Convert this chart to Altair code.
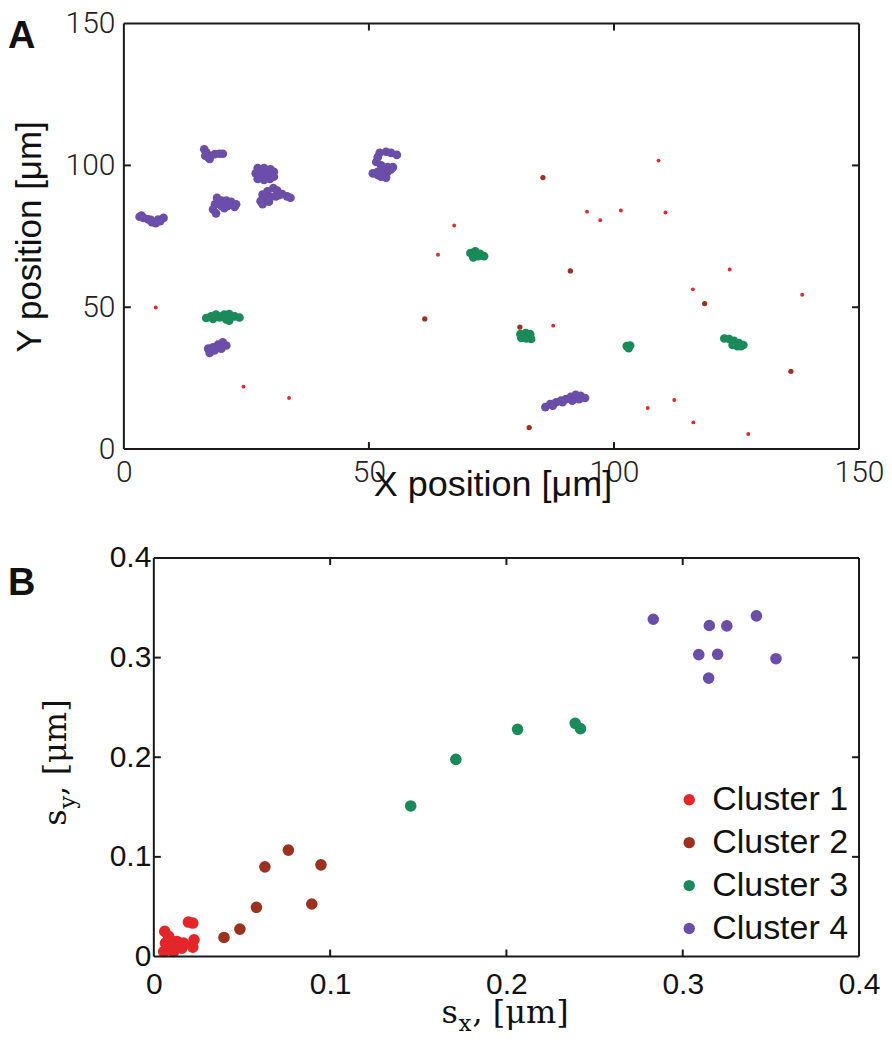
import altair as alt
import pandas as pd

# ---------------- data ----------------
cluster_names = ["Cluster 1", "Cluster 2", "Cluster 3", "Cluster 4"]
cluster_colors = ["#e3262a", "#9b3220", "#1b8a5a", "#6a4ea8"]

# Panel A: positions [um]
a1_x = [6.5, 24.4, 33.7, 64.1, 67.4, 94.5, 97.2, 101.4, 109.1, 110.5, 87.6, 116.1, 123.6, 138.4, 106.9, 112.3, 116.2, 127.4]
a1_y = [49.9, 22.0, 18.0, 68.5, 78.8, 83.7, 80.7, 84.1, 101.7, 83.4, 43.5, 56.3, 63.3, 54.4, 14.5, 17.3, 9.4, 5.3]

a2_x = [61.4, 85.5, 91.1, 80.8, 118.5, 136.1, 82.7]
a2_y = [45.9, 95.7, 62.8, 43.0, 51.3, 27.4, 7.6]

a3_x = [16.8, 17.8, 18.8, 19.5, 20.5, 21.5, 22.6, 23.6, 21.5, 20.9, 18.2, 19.9,
        70.7, 71.7, 72.7, 73.5, 71.3, 72.3,
        80.9, 82.0, 82.9, 81.1, 82.1, 83.1,
        102.6, 103.3, 103.0,
        122.5, 123.5, 124.5, 125.5, 126.4, 124.2, 125.2, 125.9]
a3_y = [46.2, 46.8, 47.4, 46.4, 47.4, 47.6, 46.8, 46.4, 45.3, 45.7, 45.9, 46.8,
        69.1, 69.7, 68.8, 68.0, 67.6, 68.0,
        40.5, 40.9, 40.5, 39.2, 39.0, 38.8,
        36.3, 36.5, 35.6,
        39.0, 38.8, 38.2, 37.4, 36.7, 36.7, 36.3, 36.3]

a4_x = [3.2, 4.0, 4.9, 5.7, 6.5, 7.4, 8.1, 5.5, 7.0, 3.6,
        16.4, 16.8, 17.2, 17.8, 18.6, 19.5, 20.2, 16.6, 17.5,
        19.0, 19.9, 20.9, 21.9, 22.9, 18.6, 19.9, 21.2, 22.6, 18.2, 18.8, 20.5,
        27.3, 28.6, 29.9, 30.6, 26.9, 28.3, 29.6, 30.6, 27.3, 28.6, 29.8,
        28.3, 29.3, 30.5, 31.3, 32.3, 33.3, 34.0, 27.9, 28.9, 29.9, 31.0, 31.6, 28.3, 29.6,
        52.2, 53.5, 54.5, 55.7, 51.8, 51.5, 52.5, 53.8, 54.9, 50.8, 51.8, 52.8, 53.8, 54.5, 52.5, 53.5, 51.8,
        17.2, 18.2, 19.2, 20.2, 20.9, 19.9, 18.5, 17.5, 18.8,
        86.0, 87.0, 88.2, 89.2, 90.2, 91.2, 92.2, 93.2, 94.1, 87.5, 89.5, 91.5, 92.9]
a4_y = [81.9, 81.5, 81.0, 80.0, 79.6, 80.3, 81.5, 80.8, 80.9, 82.3,
        105.7, 104.6, 102.9, 103.4, 104.0, 104.1, 104.1, 103.4, 102.3,
        88.6, 87.6, 87.6, 87.2, 86.3, 86.3, 85.7, 85.7, 85.4, 84.5, 83.1, 84.9,
        99.1, 99.1, 98.6, 97.7, 97.2, 97.2, 96.8, 96.0, 95.2, 94.9, 95.2,
        89.7, 90.9, 92.0, 91.1, 89.9, 89.1, 88.6, 87.4, 88.0, 88.8, 89.1, 89.5, 86.3, 87.2,
        104.4, 104.8, 104.4, 103.7, 102.9, 101.2, 100.0, 99.4, 99.4, 97.2, 97.7, 98.3, 97.7, 98.6, 96.0, 95.7, 96.6,
        35.4, 35.9, 36.8, 37.6, 36.5, 35.4, 34.8, 33.9, 35.4,
        14.8, 15.9, 16.5, 17.1, 17.6, 18.4, 19.1, 18.8, 18.0, 15.3, 16.5, 17.1, 17.6]

# Panel B: spreads s_x, s_y [um]
b1_sx = [0.0196, 0.0221, 0.0062, 0.0228, 0.0221, 0.0159, 0.0131, 0.0093, 0.0066, 0.0075, 0.0103, 0.0168, 0.0056, 0.0112, 0.0084]
b1_sy = [0.0346, 0.0336, 0.0252, 0.0168, 0.0094, 0.0084, 0.0151, 0.0168, 0.0134, 0.0067, 0.0101, 0.0134, 0.0050, 0.0050, 0.0202]
b2_sx = [0.0763, 0.0948, 0.0896, 0.0630, 0.0582, 0.0488, 0.0398]
b2_sy = [0.1068, 0.0920, 0.0527, 0.0900, 0.0494, 0.0275, 0.0191]
b3_sx = [0.2063, 0.2390, 0.2420, 0.1713, 0.1457]
b3_sy = [0.2280, 0.2340, 0.2287, 0.1978, 0.1511]
b4_sx = [0.2833, 0.3151, 0.3250, 0.3418, 0.3091, 0.3198, 0.3529, 0.3147]
b4_sy = [0.3385, 0.3322, 0.3318, 0.3419, 0.3030, 0.3033, 0.2989, 0.2794]

a_ticks = [0, 50, 100, 150]
a_inner_ticks = [50, 100]
b_ticks = [0, 0.1, 0.2, 0.3, 0.4]
b_inner_ticks = [0.1, 0.2, 0.3]

# ---------------- tables ----------------
def table(xs, ys, names):
    rows = []
    for xv, yv, nm in zip(xs, ys, names):
        for a, b in zip(xv, yv):
            rows.append({"x": a, "y": b, "cluster": nm})
    return pd.DataFrame(rows)

dfA = table([a1_x, a2_x, a3_x, a4_x], [a1_y, a2_y, a3_y, a4_y], cluster_names)
dfB = table([b1_sx, b2_sx, b3_sx, b4_sx], [b1_sy, b2_sy, b3_sy, b4_sy], cluster_names)

FRAME = "#1a1a1a"
TICK_LEN = 7
SANS = "Liberation Sans"
SERIF = "DejaVu Serif"


def frame_layers(xmin, xmax, ymin, ymax, inner_x, inner_y):
    box = pd.DataFrame({"x": [xmin, xmin, xmin, xmax], "x2": [xmax, xmax, xmin, xmax],
                        "y": [ymin, ymax, ymin, ymin], "y2": [ymin, ymax, ymax, ymax]})
    box_l = alt.Chart(box).mark_rule(color=FRAME, strokeWidth=2).encode(
        x="x:Q", x2="x2", y="y:Q", y2="y2")
    bt = pd.DataFrame({"x": inner_x, "y": [ymin] * len(inner_x)})
    tt = pd.DataFrame({"x": inner_x, "y": [ymax] * len(inner_x)})
    lt = pd.DataFrame({"y": inner_y, "x": [xmin] * len(inner_y)})
    rt = pd.DataFrame({"y": inner_y, "x": [xmax] * len(inner_y)})
    b_l = alt.Chart(bt).mark_rule(color=FRAME, strokeWidth=2, y2Offset=-TICK_LEN).encode(
        x="x:Q", y="y:Q", y2=alt.Y2("y"))
    t_l = alt.Chart(tt).mark_rule(color=FRAME, strokeWidth=2, y2Offset=TICK_LEN).encode(
        x="x:Q", y="y:Q", y2=alt.Y2("y"))
    l_l = alt.Chart(lt).mark_rule(color=FRAME, strokeWidth=2, x2Offset=TICK_LEN).encode(
        y="y:Q", x="x:Q", x2=alt.X2("x"))
    r_l = alt.Chart(rt).mark_rule(color=FRAME, strokeWidth=2, x2Offset=-TICK_LEN).encode(
        y="y:Q", x="x:Q", x2=alt.X2("x"))
    return [box_l, b_l, t_l, l_l, r_l]


def text_layer(txt, x, y, size, font=SERIF, angle=0, weight="normal"):
    return alt.Chart(pd.DataFrame({"t": [txt]})).mark_text(
        font=font, fontSize=size, angle=angle, fontWeight=weight, align="left",
        baseline="alphabetic", color="#111").encode(text="t:N", x=alt.value(x), y=alt.value(y))


color_scale = alt.Scale(domain=cluster_names, range=cluster_colors)

# ---------------- panel A ----------------
WA, HA = 736, 426
LEFT = 116
A_TICK_FONT = "Roboto"

xA = alt.X("x:Q", scale=alt.Scale(domain=[0, 150], nice=False, zero=False),
           axis=alt.Axis(values=a_ticks, title="X position [μm]", domain=False, ticks=False, grid=False,
                         labelFont=A_TICK_FONT, labelFontWeight=300, labelFontSize=30, labelColor="#222",
                         labelPadding=8, labelFlush=False, labelOverlap=False,
                         titleFont=SANS, titleFontSize=36, titleFontWeight="normal",
                         titleColor="#111", titleX=WA / 2 + 1, titleY=46, titleBaseline="alphabetic",
                         titleAlign="center"))
yA = alt.Y("y:Q", scale=alt.Scale(domain=[0, 150], nice=False, zero=False),
           axis=alt.Axis(values=a_ticks, title="Y position [μm]", domain=False, ticks=False, grid=False,
                         labelFont=A_TICK_FONT, labelFontWeight=300, labelFontSize=30, labelColor="#222",
                         labelPadding=9, labelFlush=False, labelOverlap=False,
                         titleFont=SANS, titleFontSize=35, titleFontWeight="normal",
                         titleColor="#111", titleX=-83, titleY=HA / 2, titleAngle=270,
                         titleBaseline="alphabetic", titleAlign="center"))
colA = alt.Color("cluster:N", scale=color_scale, legend=None)


def pts(names, size, with_axes=False):
    return alt.Chart(dfA).transform_filter(
        alt.FieldOneOfPredicate(field="cluster", oneOf=names)).mark_circle(
        opacity=1, strokeWidth=0, size=size).encode(
        x=xA if with_axes else "x:Q", y=yA if with_axes else "y:Q", color=colA)


blobs = pts(["Cluster 3", "Cluster 4"], 75, with_axes=True)
browns = pts(["Cluster 2"], 28)
reds = pts(["Cluster 1"], 15)

labelA = text_layer("A", -LEFT, 24, 38, font=SANS, weight="bold")

panelA = alt.layer(blobs, browns, reds, *frame_layers(0, 150, 0, 150, a_inner_ticks, a_inner_ticks),
                   labelA).properties(width=WA, height=HA)

# ---------------- panel B ----------------
WB, HB = 736, 399
SHIFT = 30  # px between panel A's and panel B's left plot edge
b_xmin = -SHIFT * 0.4 / (WB - SHIFT)

pointsB = alt.Chart(dfB).mark_circle(opacity=1, strokeWidth=0, size=135).encode(
    x=alt.X("x:Q", scale=alt.Scale(domain=[b_xmin, 0.4], nice=False, zero=False),
            axis=alt.Axis(values=b_ticks, format="~g", title=None, domain=False, ticks=False, grid=False,
                          labelFont=SANS, labelFontSize=30, labelColor="#111",
                          labelPadding=13, labelFlush=False, labelOverlap=False)),
    y=alt.Y("y:Q", scale=alt.Scale(domain=[0, 0.4], nice=False, zero=False),
            axis=alt.Axis(values=b_ticks, format="~g", title=None, domain=False, ticks=False, grid=False,
                          offset=-SHIFT,
                          labelFont=SANS, labelFontSize=30, labelColor="#111",
                          labelPadding=3, labelFlush=False, labelOverlap=False)),
    color=alt.Color("cluster:N", scale=color_scale,
                    legend=alt.Legend(title=None, orient="none", legendX=549, legendY=225,
                                      labelFont=SANS, labelFontSize=34, labelColor="#111",
                                      symbolType="circle", symbolSize=130, symbolStrokeWidth=0,
                                      rowPadding=9, padding=0, labelOffset=6)),
)

# axis titles of panel B: "s" with a subscript, then ", [μm]"
YT_X = SHIFT - 88
ytitle = [text_layer("s", YT_X, 268, 32, angle=270),
          text_layer("y", YT_X + 9, 251, 23, angle=270),
          text_layer(", [μm]", YT_X, 238, 32, angle=270)]
XT_X = 318
XT_Y = HB + 67
xtitle = [text_layer("s", XT_X, XT_Y, 32),
          text_layer("x", XT_X + 17, XT_Y + 8, 23),
          text_layer(", [μm]", XT_X + 31, XT_Y, 32)]

labelB = text_layer("B", -LEFT, 37, 38, font=SANS, weight="bold")

panelB = alt.layer(pointsB, *frame_layers(0, 0.4, 0, 0.4, b_inner_ticks, b_inner_ticks),
                   *ytitle, *xtitle, labelB).properties(width=WB, height=HB)

chart = alt.vconcat(panelA, panelB, spacing=41).resolve_scale(
    color="independent").configure_view(stroke=None).properties(padding=0)

chart.save("out.html", embed_options={"renderer": "svg", "actions": False})
